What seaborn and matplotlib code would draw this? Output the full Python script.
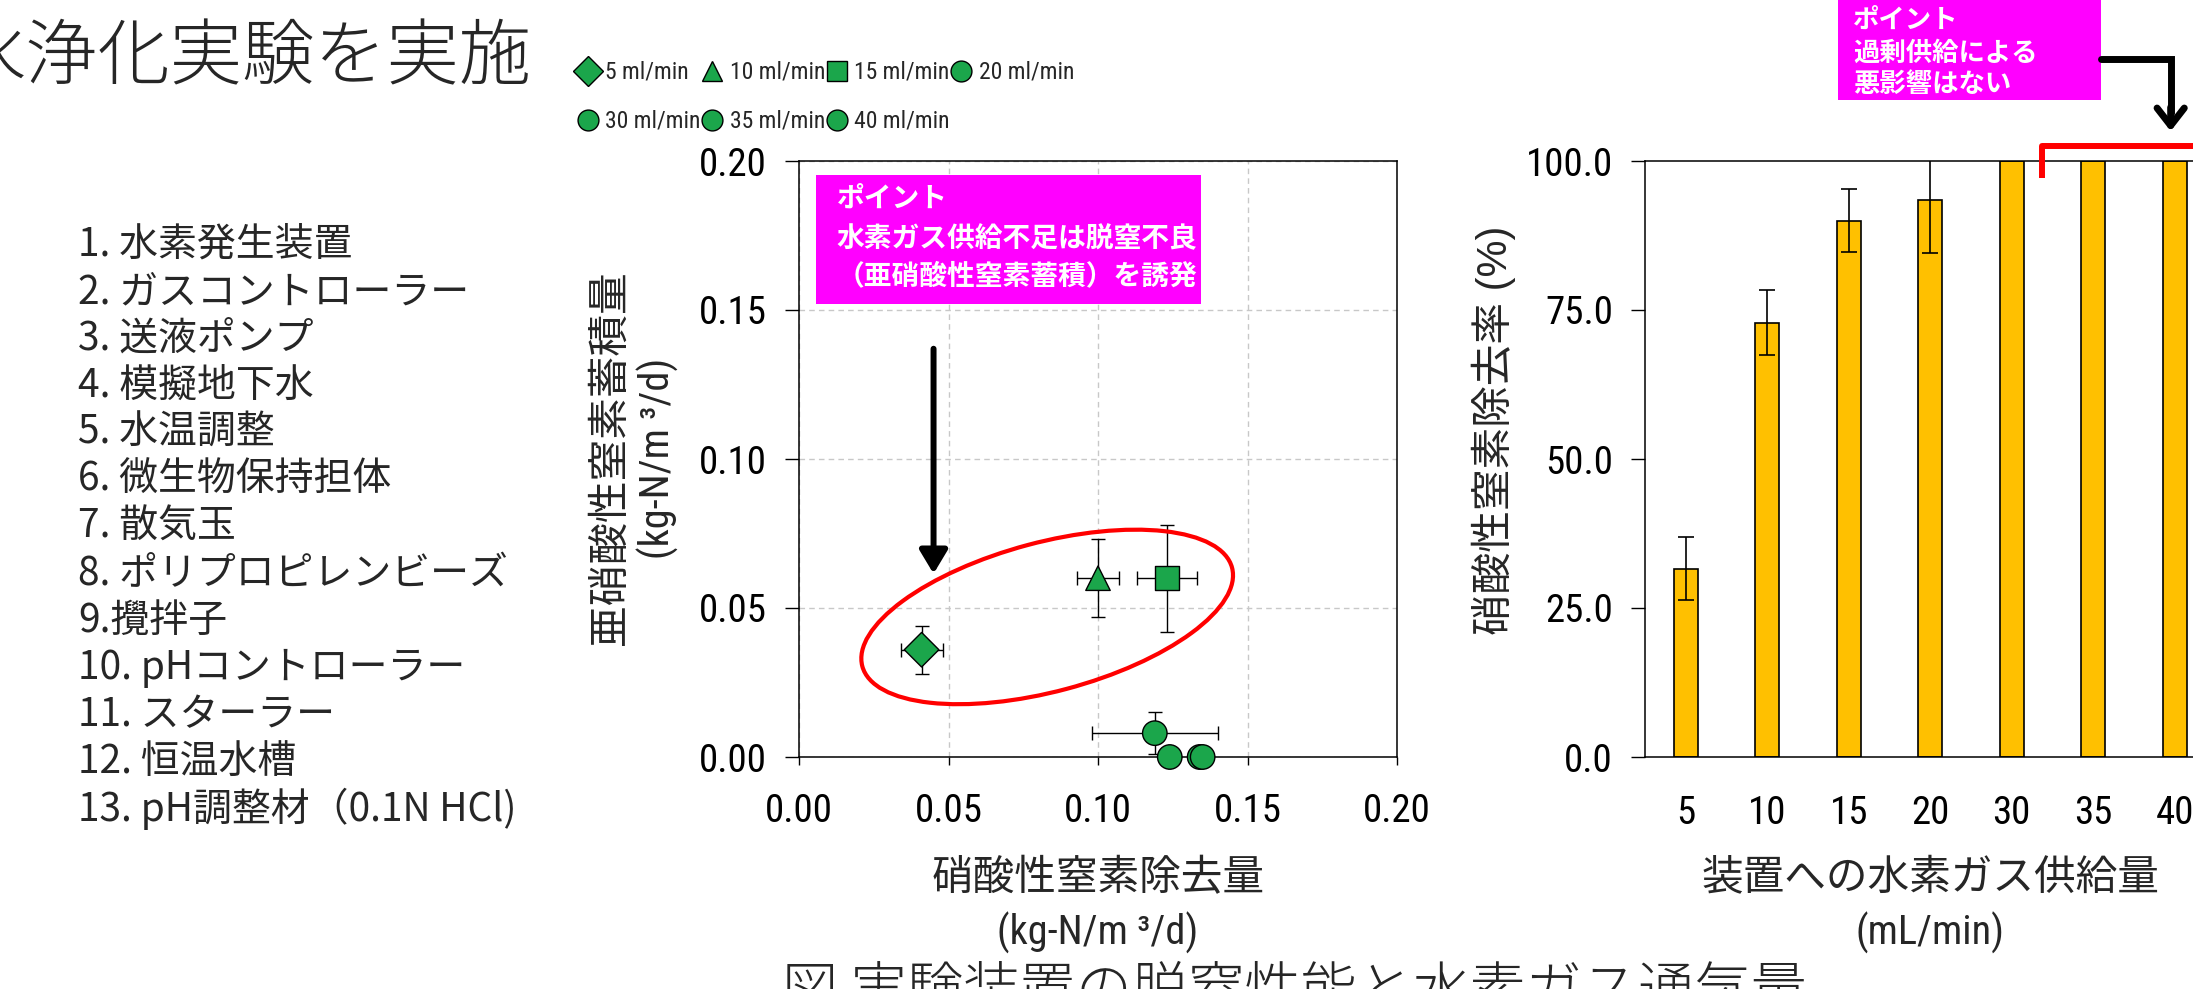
import matplotlib
matplotlib.use("Agg")
import matplotlib.pyplot as plt
import matplotlib.patches as mpatches
from matplotlib import font_manager
from matplotlib.lines import Line2D
from matplotlib.ticker import FormatStrFormatter
import pandas as pd
import seaborn as sns

# --- data ------------------------------------------------------------------
flow_labels = ["5", "10", "15", "20", "30", "35", "40"]
marker_shapes = ["D", "^", "s", "o", "o", "o", "o"]

# scatter: nitrate removed vs nitrite accumulated (kg-N/m3/d)
no3_removed = [0.041, 0.100, 0.123, 0.119, 0.124, 0.134, 0.135]
no3_removed_err = [0.007, 0.007, 0.010, 0.021, 0.0, 0.0, 0.0]
no2_accum = [0.036, 0.060, 0.060, 0.008, 0.0, 0.0, 0.0]
no2_accum_err = [0.008, 0.013, 0.018, 0.007, 0.0, 0.0, 0.0]

# bars: nitrate removal rate (%)
removal_rate = [31.6, 72.9, 90.0, 93.4, 100.0, 100.0, 100.0]
removal_rate_err = [5.3, 5.4, 5.3, 8.8, 0.0, 0.0, 0.0]

scatter_ticks = [0.00, 0.05, 0.10, 0.15, 0.20]
rate_ticks = [0, 25, 50, 75, 100]

parts_list = [
    "1. 水素発生装置",
    "2. ガスコントローラー",
    "3. 送液ポンプ",
    "4. 模擬地下水",
    "5. 水温調整",
    "6. 微生物保持担体",
    "7. 散気玉",
    "8. ポリプロピレンビーズ",
    "9.攪拌子",
    "10. pHコントローラー",
    "11. スターラー",
    "12. 恒温水槽",
    "13. pH調整材（0.1N HCl)",
]

GREEN = "#1BA64B"
YELLOW = "#FFC000"
MAGENTA = "#FF00FF"
CJK = ["Noto Sans CJK JP", "DejaVu Sans"]
LATIN = "Liberation Sans"

sns.set_theme(style="white")
plt.rcParams["font.family"] = [LATIN, "Noto Sans CJK JP", "DejaVu Sans"]

# the chart lettering in the reference is a condensed Arial: use a condensed
# face for legend / tick / unit labels if one is installed
installed = {f.name for f in font_manager.fontManager.ttflist}
condensed = [n for n in ["Liberation Sans Narrow", "Arial Narrow", "Roboto Condensed",
                         "Noto Sans Condensed", "Open Sans Condensed"] if n in installed]
if condensed:
    NARROW = condensed[0]
    TICK_SIZE, LEGEND_SIZE, UNIT_SIZE = 28, 17, 29
else:
    NARROW = LATIN
    TICK_SIZE, LEGEND_SIZE, UNIT_SIZE = 26, 15.5, 27
UNIT_FONT = [NARROW, "Noto Sans CJK JP", "DejaVu Sans"]

W, H = 2193, 989
fig = plt.figure(figsize=(W / 100, H / 100), dpi=100)
fig.patch.set_facecolor("white")


def fx(px):
    return px / W


def fy(py):
    return 1 - py / H


# --- slide text -------------------------------------------------------------
fig.text(fx(-46), fy(59), "水浄化実験を実施", fontsize=52, family=CJK,
         fontweight="light", ha="left", va="center")
for k, item in enumerate(parts_list):
    fig.text(fx(78), fy(245 + 47 * k), item, fontsize=28, family=CJK,
             ha="left", va="center")
fig.text(fx(782), fy(991), "図 実験装置の脱窒性能と水素ガス通気量", fontsize=40.5,
         family=CJK, fontweight="light", ha="left", va="center")

# --- scatter panel ----------------------------------------------------------
ax1 = fig.add_axes([fx(799), fy(757), 598 / W, 596 / H])
df = pd.DataFrame({"flow": flow_labels, "removed": no3_removed, "accum": no2_accum})

has_err = [i for i in range(len(flow_labels)) if no2_accum_err[i] > 0 or no3_removed_err[i] > 0]
ax1.errorbar([no3_removed[i] for i in has_err], [no2_accum[i] for i in has_err],
             xerr=[no3_removed_err[i] for i in has_err],
             yerr=[no2_accum_err[i] for i in has_err],
             fmt="none", ecolor="black", elinewidth=1, capsize=5, capthick=1, zorder=3)
sns.scatterplot(data=df, x="removed", y="accum", style="flow",
                markers=dict(zip(flow_labels, marker_shapes)), color=GREEN,
                edgecolor="black", linewidth=1, s=310, legend=False, ax=ax1,
                zorder=4, clip_on=False)

ax1.set_xlim(0, 0.2)
ax1.set_ylim(0, 0.2)
ax1.set_xticks(scatter_ticks)
ax1.set_yticks(scatter_ticks)
ax1.xaxis.set_major_formatter(FormatStrFormatter("%.2f"))
ax1.yaxis.set_major_formatter(FormatStrFormatter("%.2f"))
ax1.set_xlabel("")
ax1.set_ylabel("")
ax1.grid(True, linestyle=(0, (4, 3)), color="#C8C8C8", linewidth=1)
ax1.set_axisbelow(True)
for sp in ax1.spines.values():
    sp.set_visible(True)
    sp.set_color("black")
    sp.set_linewidth(1.1)
ax1.tick_params(axis="y", direction="out", length=10, width=1, pad=13,
                labelsize=TICK_SIZE, labelfontfamily=NARROW, colors="black", left=True)
ax1.tick_params(axis="x", direction="out", length=6, width=1, pad=20,
                labelsize=TICK_SIZE, labelfontfamily=NARROW, colors="black", bottom=True)

# point callout
ax1.add_patch(mpatches.Rectangle((0.0056, 0.1519), 0.1288, 0.0434, facecolor=MAGENTA,
                                 edgecolor="none", zorder=5))
for y, line in zip([0.1874, 0.1737, 0.1612],
                   ["ポイント", "水素ガス供給不足は脱窒不良", "（亜硝酸性窒素蓄積）を誘発"]):
    ax1.text(0.0126, y, line, color="white", fontsize=20, fontweight="bold",
             family=CJK, ha="left", va="center", zorder=6)
ax1.annotate("", xy=(0.045, 0.0615), xytext=(0.045, 0.137),
             arrowprops=dict(arrowstyle="-|>,head_length=1.0,head_width=0.6",
                             lw=4.3, color="black", shrinkA=0, shrinkB=0,
                             mutation_scale=14), zorder=6)
ax1.add_patch(mpatches.Ellipse((0.083, 0.047), 0.128, 0.050, angle=15,
                               fill=False, edgecolor="red", linewidth=3, zorder=5))

# legend above the scatter (row-major order for a 4-column grid)
handles = {f: Line2D([], [], marker=m, color=GREEN, markeredgecolor="black",
                     markeredgewidth=1, markersize=15, linestyle="none")
           for f, m in zip(flow_labels, marker_shapes)}
order = ["5", "30", "10", "35", "15", "40", "20"]
fig.legend([handles[f] for f in order], [f"{f} ml/min" for f in order],
           loc="upper left", bbox_to_anchor=(fx(578), fy(61)), ncol=4,
           frameon=False, prop={"family": NARROW, "size": LEGEND_SIZE},
           handlelength=0.85, handletextpad=0.3, columnspacing=0.08,
           labelspacing=1.1, borderpad=0, borderaxespad=0)

fig.text(fx(611), fy(458), "亜硝酸性窒素蓄積量", rotation=90, fontsize=30,
         ha="center", va="center")
fig.text(fx(658), fy(458), "(kg-N/m ³/d)", rotation=90, fontsize=UNIT_SIZE,
         family=UNIT_FONT, ha="center", va="center")
fig.text(fx(1098), fy(879), "硝酸性窒素除去量", fontsize=30, ha="center", va="center")
fig.text(fx(1098), fy(933), "(kg-N/m ³/d)", fontsize=UNIT_SIZE, family=UNIT_FONT,
         ha="center", va="center")

# --- bar panel --------------------------------------------------------------
ax2 = fig.add_axes([fx(1645), fy(757), 7 * 81.5 / W, 596 / H])
sns.barplot(x=flow_labels, y=removal_rate, color=YELLOW, saturation=1,
            edgecolor="black", linewidth=1.2, width=0.3, errorbar=None, ax=ax2,
            zorder=2)
bar_err = [i for i, e in enumerate(removal_rate_err) if e > 0]
ax2.errorbar(bar_err, [removal_rate[i] for i in bar_err],
             yerr=[removal_rate_err[i] for i in bar_err], fmt="none",
             ecolor="black", elinewidth=1.2, capsize=6, capthick=1.2, zorder=3)
ax2.set_xlim(-0.5, 6.5)
ax2.set_ylim(0, 100)
ax2.set_yticks(rate_ticks)
ax2.yaxis.set_major_formatter(FormatStrFormatter("%.1f"))
ax2.set_xlabel("")
ax2.set_ylabel("")
for sp in ax2.spines.values():
    sp.set_visible(True)
    sp.set_color("black")
    sp.set_linewidth(1.1)
ax2.tick_params(axis="y", direction="out", length=10, width=1, pad=13,
                labelsize=TICK_SIZE, labelfontfamily=NARROW, colors="black", left=True)
ax2.tick_params(axis="x", length=0, pad=27, labelsize=TICK_SIZE,
                labelfontfamily=NARROW, colors="black")

fig.text(fx(1494), fy(430), "硝酸性窒素除去率 (%)", rotation=90, fontsize=30,
         ha="center", va="center")
fig.text(fx(1930), fy(879), "装置への水素ガス供給量", fontsize=30, ha="center", va="center")
fig.text(fx(1930), fy(933), "(mL/min)", fontsize=UNIT_SIZE, family=UNIT_FONT,
         ha="center", va="center")

# "no adverse effect" callout (bar-axis data units, drawn outside the frame)
ax2.add_patch(mpatches.Rectangle((1.87, 110.2), 3.22, 22, facecolor=MAGENTA,
                                 edgecolor="none", zorder=5, clip_on=False))
for y, line in zip([123.6, 118.0, 112.9], ["ポイント", "過剰供給による", "悪影響はない"]):
    ax2.text(2.05, y, line, color="white", fontsize=19, fontweight="bold",
             family=CJK, ha="left", va="center", zorder=6, clip_on=False)
ax2.plot([5.09, 5.95, 5.95], [117.1, 117.1, 108.0], color="black", lw=5,
         solid_joinstyle="miter", clip_on=False, zorder=6)
ax2.annotate("", xy=(5.95, 105.0), xytext=(5.95, 109.0),
             arrowprops=dict(arrowstyle="->,head_length=0.9,head_width=0.7",
                             lw=5, color="black", shrinkA=0, shrinkB=0,
                             mutation_scale=14), zorder=6, annotation_clip=False)
ax2.plot([4.37, 4.37, 7.0], [97.2, 102.5, 102.5], color="red", lw=4.3,
         solid_joinstyle="round", solid_capstyle="butt", clip_on=False, zorder=6)

fig.savefig("out.png", dpi=100, facecolor="white")
